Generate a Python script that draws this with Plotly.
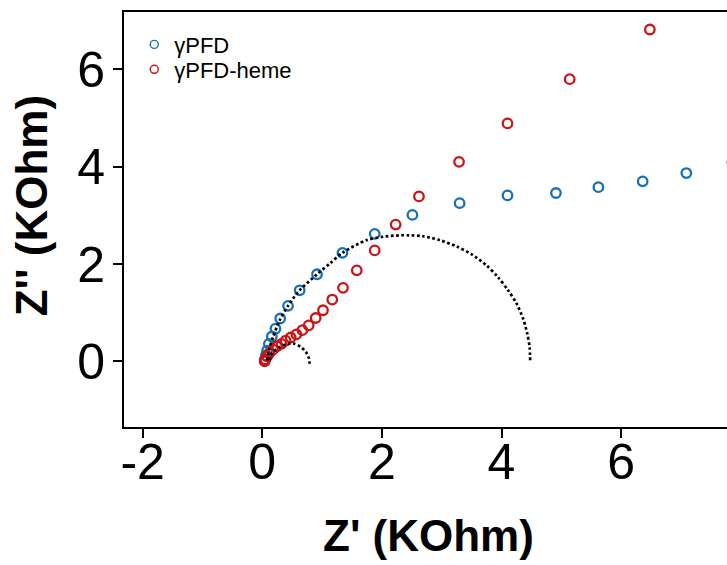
import plotly.graph_objects as go

# gamma-PFD (blue)
pfd_x = [0.04, 0.06, 0.08, 0.11, 0.16, 0.22, 0.30, 0.43, 0.625, 0.915, 1.34, 1.88, 2.51,
         3.30, 4.10, 4.91, 5.62, 6.36, 7.09, 7.86]
pfd_y = [0.03, 0.12, 0.22, 0.36, 0.51, 0.67, 0.88, 1.14, 1.46, 1.79, 2.23, 2.62, 3.01,
         3.25, 3.41, 3.46, 3.58, 3.70, 3.87, 4.09]

# gamma-PFD-heme (red)
heme_x = [0.04, 0.05, 0.08, 0.12, 0.18, 0.245, 0.32, 0.39, 0.475, 0.57, 0.67, 0.776, 0.893,
          1.015, 1.17, 1.35, 1.58, 1.88, 2.23, 2.62, 3.29, 4.10, 5.14, 6.48]
heme_y = [0.00, 0.04, 0.10, 0.17, 0.24, 0.31, 0.36, 0.425, 0.49, 0.555, 0.64, 0.74, 0.89,
          1.05, 1.27, 1.51, 1.87, 2.28, 2.81, 3.39, 4.10, 4.89, 5.80, 6.82]

# fitted arcs (dotted)
fit1_x = [0.08, 0.11, 0.18, 0.29, 0.43, 0.625, 0.915, 1.13, 1.34, 1.74, 2.02, 2.30, 2.46,
          2.69, 2.97, 3.25, 3.50, 3.75, 3.94, 4.11, 4.25, 4.36, 4.43, 4.47, 4.48]
fit1_y = [0.02, 0.23, 0.50, 0.84, 1.14, 1.46, 1.79, 2.01, 2.23, 2.49, 2.56, 2.59, 2.59,
          2.57, 2.49, 2.36, 2.20, 1.97, 1.73, 1.46, 1.19, 0.88, 0.57, 0.29, -0.01]
fit2_x = [0.12, 0.18, 0.29, 0.43, 0.54, 0.65, 0.73, 0.78, 0.79]
fit2_y = [0.02, 0.19, 0.29, 0.36, 0.36, 0.29, 0.19, 0.06, -0.05]

x_ticks = [-2, 0, 2, 4, 6]
x_labels = ["-2", "0", "2", "4", "6"]
y_ticks = [0, 2, 4, 6]
y_labels = ["0", "2", "4", "6"]

BLUE = "#1670b4"
RED = "#cc1414"
FONT = "Liberation Sans, Arial, sans-serif"

fig = go.Figure()
fig.add_trace(go.Scatter(x=pfd_x, y=pfd_y, mode="markers", showlegend=False,
                         marker=dict(symbol="circle-open", size=9.5, color=BLUE,
                                     line=dict(width=2.3, color=BLUE))))
fig.add_trace(go.Scatter(x=heme_x, y=heme_y, mode="markers", showlegend=False,
                         marker=dict(symbol="circle-open", size=9.5, color=RED,
                                     line=dict(width=2.3, color=RED))))
for fx, fy in ((fit1_x, fit1_y), (fit2_x, fit2_y)):
    fig.add_trace(go.Scatter(x=fx, y=fy, mode="lines", showlegend=False,
                             line=dict(color="black", width=2.7, dash="2.7px,2.5px",
                                       shape="spline", smoothing=0.8)))
# legend entries (one legend per row for exact row spacing)
fig.add_trace(go.Scatter(x=[None], y=[None], mode="markers", name="\u03b3PFD",
                         legend="legend",
                         marker=dict(symbol="circle-open", size=8, color=BLUE,
                                     line=dict(width=1.4, color=BLUE))))
fig.add_trace(go.Scatter(x=[None], y=[None], mode="markers", name="\u03b3PFD-heme",
                         legend="legend2",
                         marker=dict(symbol="circle-open", size=8, color=RED,
                                     line=dict(width=1.4, color=RED))))

axis_common = dict(showline=True, linecolor="black", linewidth=2, ticks="outside",
                   ticklen=9, tickwidth=2, tickcolor="black", showgrid=False,
                   zeroline=False, tickfont=dict(family=FONT, size=50, color="black"))
fig.update_xaxes(range=[-2.312, 7.77], tickvals=x_ticks, ticktext=x_labels, mirror=True,
                 ticklabelstandoff=-19, **axis_common)
fig.update_yaxes(range=[-1.35, 7.18], tickvals=y_ticks, ticktext=y_labels, mirror=False,
                 ticklabelstandoff=-2, **axis_common)

legend_style = dict(xanchor="left", yanchor="top",
                    font=dict(family=FONT, size=22, color="black"),
                    bgcolor="rgba(0,0,0,0)")
fig.update_layout(
    width=727, height=565,
    margin=dict(l=124, r=0, t=12, b=138),
    plot_bgcolor="white", paper_bgcolor="white",
    legend=dict(x=0.017, y=0.972, **legend_style),
    legend2=dict(x=0.017, y=0.912, **legend_style),
    annotations=[
        dict(text="<b>Z' (KOhm)</b>", xref="paper", yref="paper",
             x=(428 - 124) / 603, y=-(535 - 426.7) / 415, xanchor="center", yanchor="middle",
             showarrow=False, font=dict(family=FONT, size=44, color="black")),
        dict(text="<b>Z'' (KOhm)</b>", xref="paper", yref="paper",
             x=-(124 - 31) / 603, y=(426.7 - 206) / 415, xanchor="center", yanchor="middle",
             textangle=-90, showarrow=False,
             font=dict(family=FONT, size=44, color="black")),
    ],
)

fig.write_html("out.html")
